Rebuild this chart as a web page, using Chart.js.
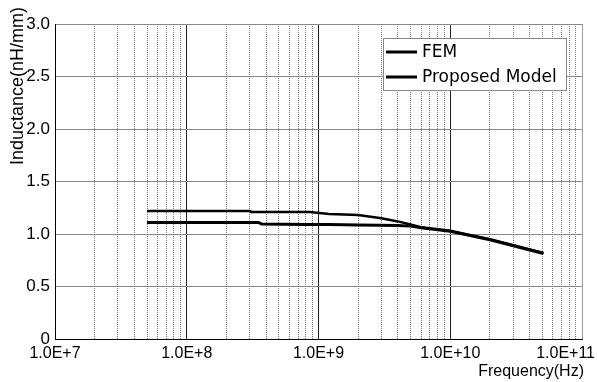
<!DOCTYPE html>
<html>
<head>
<meta charset="utf-8">
<script src="https://cdn.jsdelivr.net/npm/chart.js@4"></script>
<style>
  body { margin: 0; background: #fff; }
  #wrap { width: 597px; height: 382px; }
</style>
</head>
<body>
<div id="wrap"><canvas id="myChart" width="597" height="382"></canvas></div>
<script>

// data
var femFreq = [5e7, 3e8, 3.1e8, 8.6e8, 1.2e9, 2e9, 3e9, 4e9, 5e9, 6e9, 1e10, 2e10, 5.1e10];
var femL = [1.22, 1.22, 1.21, 1.21, 1.19, 1.18, 1.15, 1.12, 1.09, 1.065, 1.03, 0.95, 0.82];

var propFreq = [5e7, 3.5e8, 3.7e8, 8e8, 1.2e9, 2e9, 4e9, 5e9, 6e9, 1e10, 2e10, 5.1e10];
var propL = [1.11, 1.11, 1.095, 1.09, 1.09, 1.085, 1.08, 1.075, 1.06, 1.025, 0.945, 0.815];

var decades = [1e7, 1e8, 1e9, 1e10, 1e11];
var xTickLabels = ["1.0E+7", "1.0E+8", "1.0E+9", "1.0E+10", "1.0E+11"];
var yTicks = [0, 0.5, 1.0, 1.5, 2.0, 2.5, 3.0];

var FONT = "'Liberation Sans', Arial, sans-serif";
var LEGEND_FONT = "'DejaVu Sans', sans-serif";

function points(xs, ys) {
    var out = [];
    for (var i = 0; i < xs.length; i++) {
        out.push({x: xs[i], y: ys[i]});
    }
    return out;
}

var extras = {
    id: 'extras',
    afterDraw: function (chart) {
        var ctx = chart.ctx;
        var xs = chart.scales.x;
        var area = chart.chartArea;
        ctx.save();
        ctx.fillStyle = '#000';

        // x tick labels
        ctx.font = '16px ' + FONT;
        ctx.textBaseline = 'middle';
        ctx.textAlign = 'left';
        for (var i = 0; i < decades.length; i++) {
            var px = xs.getPixelForValue(decades[i]);
            var w = ctx.measureText(xTickLabels[i]).width;
            var left = px - w / 2;
            if (left + w > chart.width - 2) left = chart.width - 2 - w;
            ctx.fillText(xTickLabels[i], left, area.bottom + 15);
        }

        // axis titles
        ctx.font = '16px ' + FONT;
        ctx.textAlign = 'right';
        ctx.fillText('Frequency(Hz)', 584, 372);

        ctx.save();
        ctx.translate(18, 86);
        ctx.rotate(-Math.PI / 2);
        ctx.textAlign = 'center';
        ctx.font = '18px ' + FONT;
        ctx.fillText('Inductance(nH/mm)', 0, 0);
        ctx.restore();

        // legend box
        var bx = 383, by = 38, bw = 183, bh = 52;
        ctx.fillStyle = '#fff';
        ctx.fillRect(bx, by, bw, bh);
        ctx.strokeStyle = '#888';
        ctx.lineWidth = 1;
        ctx.strokeRect(bx + 0.5, by + 0.5, bw, bh);

        ctx.font = '17px ' + LEGEND_FONT;
        ctx.textAlign = 'left';
        chart.data.datasets.forEach(function (ds, k) {
            var ly = by + 14 + k * 25;
            ctx.strokeStyle = '#000';
            ctx.lineWidth = 3;
            ctx.beginPath();
            ctx.moveTo(bx + 3, ly);
            ctx.lineTo(bx + 34, ly);
            ctx.stroke();
            ctx.fillStyle = '#000';
            ctx.fillText(ds.label, bx + 39, ly + 1);
        });
        ctx.restore();
    }
};

var ctx = document.getElementById('myChart');

var data = {
    datasets: [
        {
            label: "FEM",
            data: points(femFreq, femL),
            borderColor: "#000",
            backgroundColor: "#000",
            borderWidth: 2.5,
            fill: false,
            tension: 0,
            pointRadius: 0
        },
        {
            label: "Proposed Model",
            data: points(propFreq, propL),
            borderColor: "#000",
            backgroundColor: "#000",
            borderWidth: 3,
            fill: false,
            tension: 0,
            pointRadius: 0
        }
    ]
};

var options = {
    responsive: false,
    animation: false,
    layout: { padding: { top: 24, right: 15, left: 0, bottom: 0 } },
    plugins: {
        legend: { display: false },
        tooltip: { enabled: false }
    },
    scales: {
        x: {
            type: 'logarithmic',
            min: 1e7,
            max: 1e11,
            afterFit: function (s) { s.height = 43; },
            afterBuildTicks: function (s) {
                var t = [];
                for (var e = 7; e < 11; e++) {
                    for (var m = 1; m < 10; m++) {
                        t.push({value: m * Math.pow(10, e), major: m === 1});
                    }
                }
                t.push({value: 1e11, major: true});
                s.ticks = t;
            },
            ticks: { display: false },
            grid: {
                drawTicks: false,
                lineWidth: 1,
                color: function (c) {
                    if (!c.tick) return '#000';
                    if (c.tick.value === 1e11) return '#999';
                    if (c.tick.value === 1e7) return '#000';
                    return c.tick.major ? '#222' : '#777';
                }
            },
            border: {
                color: '#000',
                width: 1,
                dash: function (c) {
                    if (!c.tick || c.tick.major) return [];
                    return [1, 1];
                }
            }
        },
        y: {
            min: 0,
            max: 3,
            afterFit: function (s) { s.width = 55; },
            afterBuildTicks: function (s) {
                s.ticks = yTicks.map(function (v) { return {value: v}; });
            },
            ticks: {
                padding: 5,
                color: '#000',
                font: { family: FONT, size: 17 },
                callback: function (v) { return v === 0 ? '0' : v.toFixed(1); }
            },
            grid: {
                drawTicks: false,
                lineWidth: 1,
                color: function (c) {
                    if (c.tick && c.tick.value === 0) return '#000';
                    return '#888';
                }
            },
            border: { color: '#000', width: 1 }
        }
    }
};

var chart = new Chart(ctx, {
    type: 'line',
    data: data,
    options: options,
    plugins: [extras]
});

</script>
</body>
</html>
